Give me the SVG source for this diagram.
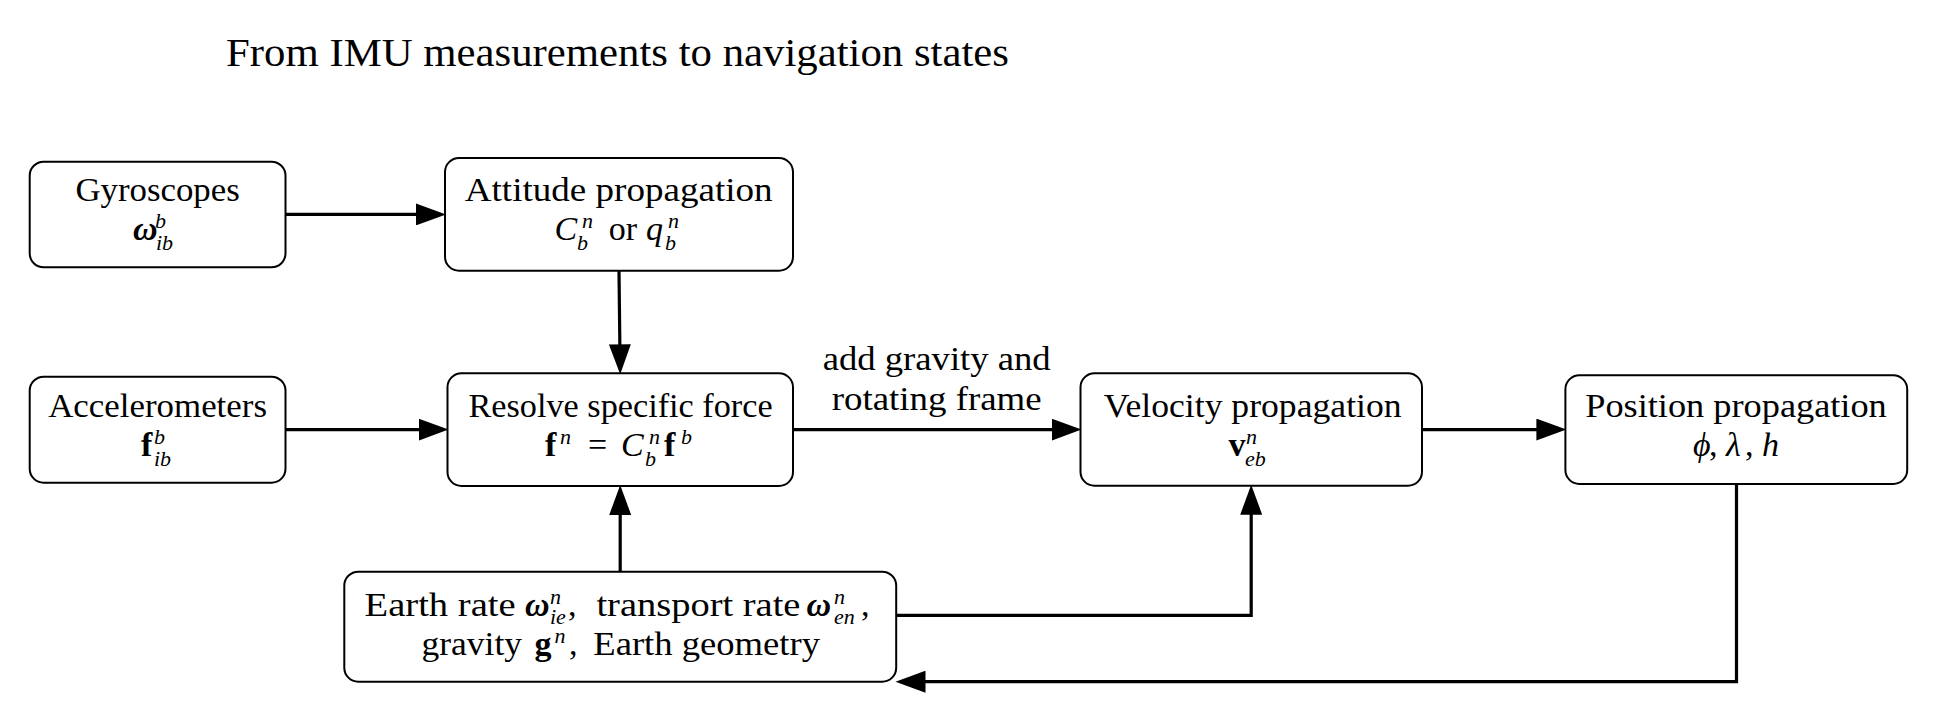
<svg xmlns="http://www.w3.org/2000/svg" width="1938" height="723" viewBox="0 0 1938 723">
<style>
  .box { fill: #fff; stroke: #000; stroke-width: 2; }
  .t { font-family: "Liberation Serif", "DejaVu Serif", serif; font-size: 34px; fill: #000; }
  .title { font-size: 39px; }
  .i { font-style: italic; }
  .b { font-weight: bold; }
  .bi { font-weight: bold; font-style: italic; }
  .s { font-size: 22px; }
  .conn { fill: none; stroke: #000; stroke-width: 3.2; marker-end: url(#ah); }
</style>
<defs>
  <marker id="ah" markerUnits="userSpaceOnUse" markerWidth="31" markerHeight="22" refX="4" refY="11" orient="auto">
    <path d="M0,0 L30,11 L0,22 Z" fill="#000"/>
  </marker>
</defs>
<rect width="1938" height="723" fill="#fff"/>

<text class="t title" x="226" y="66" textLength="783" lengthAdjust="spacingAndGlyphs">From IMU measurements to navigation states</text>

<g id="connectors">
  <path class="conn" d="M285.5,214.4 L420,214.4"/>
  <path class="conn" d="M619,270.7 L619.9,348.3"/>
  <path class="conn" d="M285.5,429.6 L422.5,429.6"/>
  <path class="conn" d="M793,429.6 L1055.5,429.6"/>
  <path class="conn" d="M1422,429.6 L1540.4,429.6"/>
  <path class="conn" d="M620.2,571.7 L620.2,511"/>
  <path class="conn" d="M896.2,615.3 L1251.2,615.3 L1251.2,510.7"/>
  <path class="conn" d="M1736.5,484 L1736.5,681.7 L921.5,681.7"/>
  <g id="edge-label">
    <text class="t" x="822.7" y="370" textLength="228" lengthAdjust="spacingAndGlyphs">add gravity and</text>
    <text class="t" x="831.7" y="410" textLength="210" lengthAdjust="spacingAndGlyphs">rotating frame</text>
  </g>
</g>

<g id="gyroscopes">
  <rect class="box" x="29.7" y="161.7" width="255.8" height="105.6" rx="14"/>
  <text class="t" x="75.4" y="200.5" textLength="164.4" lengthAdjust="spacingAndGlyphs">Gyroscopes</text>
  <text class="t"><tspan class="bi" x="133" y="240">ω</tspan><tspan class="s i" x="155" y="228">b</tspan><tspan class="s i" x="156" y="250">ib</tspan></text>
</g>

<g id="attitude">
  <rect class="box" x="445" y="158" width="348" height="112.7" rx="14"/>
  <text class="t" x="464.8" y="200.5" textLength="307.8" lengthAdjust="spacingAndGlyphs">Attitude propagation</text>
  <text class="t"><tspan class="i" x="554.5" y="240">C</tspan><tspan class="s i" x="582" y="228">n</tspan><tspan class="s i" x="577" y="250">b</tspan><tspan x="608.8" y="240">or</tspan><tspan class="i" x="646" y="240">q</tspan><tspan class="s i" x="668" y="228">n</tspan><tspan class="s i" x="665" y="250">b</tspan></text>
</g>

<g id="accelerometers">
  <rect class="box" x="29.7" y="376.7" width="255.8" height="106" rx="14"/>
  <text class="t" x="48.2" y="417" textLength="218.8" lengthAdjust="spacingAndGlyphs">Accelerometers</text>
  <text class="t"><tspan class="b" x="141" y="456">f</tspan><tspan class="s i" x="154" y="444">b</tspan><tspan class="s i" x="154" y="466">ib</tspan></text>
</g>

<g id="resolve">
  <rect class="box" x="447.5" y="373.3" width="345.5" height="112.7" rx="14"/>
  <text class="t" x="468.5" y="417" textLength="304.1" lengthAdjust="spacingAndGlyphs">Resolve specific force</text>
  <text class="t"><tspan class="b" x="545" y="456">f</tspan><tspan class="s i" x="560" y="444">n</tspan><tspan x="588" y="456">=</tspan><tspan class="i" x="621" y="456">C</tspan><tspan class="s i" x="649" y="444">n</tspan><tspan class="s i" x="645" y="466">b</tspan><tspan class="b" x="664" y="456">f</tspan><tspan class="s i" x="681" y="444">b</tspan></text>
</g>

<g id="velocity">
  <rect class="box" x="1080.5" y="373.3" width="341.5" height="112.4" rx="14"/>
  <text class="t" x="1103.7" y="417" textLength="297.9" lengthAdjust="spacingAndGlyphs">Velocity propagation</text>
  <text class="t"><tspan class="b" x="1228.6" y="456">v</tspan><tspan class="s i" x="1246" y="444">n</tspan><tspan class="s i" x="1245" y="466">eb</tspan></text>
</g>

<g id="position">
  <rect class="box" x="1565.4" y="375.3" width="341.8" height="108.7" rx="14"/>
  <text class="t" x="1585.2" y="417" textLength="301.6" lengthAdjust="spacingAndGlyphs">Position propagation</text>
  <text class="t"><tspan class="i" x="1693" y="456">ϕ</tspan><tspan x="1709" y="456">,</tspan><tspan class="i" x="1726" y="456">λ</tspan><tspan x="1745" y="456">,</tspan><tspan class="i" x="1762" y="456">h</tspan></text>
</g>

<g id="earth">
  <rect class="box" x="344.3" y="571.7" width="551.9" height="110" rx="14"/>
  <text class="t"><tspan x="364.6" y="616" textLength="151" lengthAdjust="spacingAndGlyphs">Earth rate</tspan><tspan class="bi" x="525" y="616">ω</tspan><tspan class="s i" x="550" y="604">n</tspan><tspan class="s i" x="550" y="624">ie</tspan><tspan x="568" y="616">,</tspan><tspan x="596.4" y="616" textLength="204" lengthAdjust="spacingAndGlyphs">transport rate</tspan><tspan class="bi" x="806.6" y="616">ω</tspan><tspan class="s i" x="834" y="604">n</tspan><tspan class="s i" x="834" y="624">en</tspan><tspan x="861" y="616">,</tspan></text>
  <text class="t"><tspan x="421.5" y="655" textLength="100.5" lengthAdjust="spacingAndGlyphs">gravity</tspan><tspan class="b" x="534.6" y="655">g</tspan><tspan class="s i" x="554.5" y="643">n</tspan><tspan x="569" y="655">,</tspan><tspan x="593.3" y="655" textLength="226.7" lengthAdjust="spacingAndGlyphs">Earth geometry</tspan></text>
</g>
</svg>
